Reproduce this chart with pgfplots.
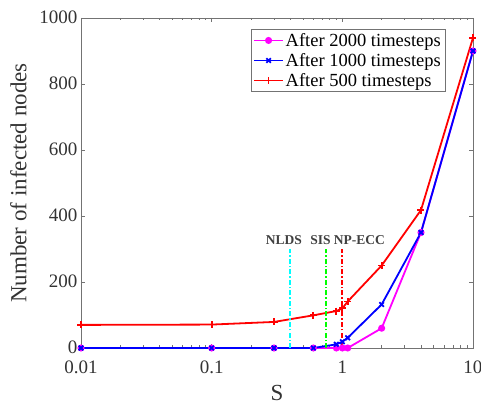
\documentclass[border=0pt]{standalone}
\usepackage{pgfplots}
\pgfplotsset{compat=1.18}
\usepackage{fontspec}
\setmainfont{Liberation Serif}
\definecolor{axgray}{gray}{0.45}
\definecolor{txtgray}{gray}{0.2}
\definecolor{mmag}{rgb}{1,0,1}
\definecolor{mcyan}{rgb}{0,1,1}
\definecolor{mgreen}{rgb}{0,1,0}
\begin{document}
\begin{tikzpicture}
\path[use as bounding box] (-81pt,-58pt) rectangle (400pt,348pt);
\begin{axis}[
  scale only axis,
  width=392pt, height=330pt,
  at={(0pt,0pt)}, anchor=south west,
  xmode=log,
  xmin=0.01, xmax=10,
  ymin=0, ymax=1000,
  xtick={0.01,0.1,1,10},
  xticklabels={0.01,0.1,1,10},
  ytick={0,200,400,600,800,1000},
  yticklabels={0,200,400,600,800,1000},
  minor x tick num=0,
  tick align=inside,
  tick pos=both,
  major tick length=4pt,
  minor tick length=2.5pt,
  axis line style={axgray, line width=0.6pt},
  every tick/.style={axgray, line width=0.5pt},
  /pgf/number format/assume math mode=true,
  tick label style={font=\fontsize{19}{21}\selectfont, text=txtgray},
  xticklabel style={yshift=-9pt},
  yticklabel style={yshift=1pt},
  xlabel={S},
  ylabel={Number of infected nodes},
  label style={font=\fontsize{23}{26}\selectfont, text=txtgray},
  xlabel style={yshift=-5pt},
  ylabel style={yshift=6pt},
  legend style={
    at={(0.929,0.967)}, anchor=north east,
    draw=axgray, line width=0.6pt,
    font=\fontsize{18.5}{20}\selectfont,
    inner xsep=2pt, inner ysep=2pt,
    row sep=1.5pt,
    cells={anchor=west},
  },
  legend image post style={line width=1.8pt},
  legend image code/.code={
    \draw[mark repeat=2,mark phase=2] plot coordinates {(0cm,0cm) (0.5cm,0cm) (1.0cm,0cm)};
  },
]
\addplot[mmag, line width=1.8pt, mark=*, mark size=2.6pt] coordinates {
  (0.01,0)(0.1,0)(0.3,0)(0.6,0)(0.9,0)(1.0,0)(1.1,0)(2,60)(4,350)(10,900)
};
\addlegendentry{After 2000 timesteps}
\addplot[blue, line width=1.8pt, mark=x, mark size=3.2pt] coordinates {
  (0.01,0)(0.1,0)(0.3,0)(0.6,0)(0.9,11)(1.0,19)(1.1,31)(2,132)(4,350)(10,900)
};
\addlegendentry{After 1000 timesteps}
\addplot[red, line width=1.8pt, mark=+, mark size=3.5pt] coordinates {
  (0.01,70)(0.1,71)(0.3,79)(0.6,99)(0.9,112)(1.0,120)(1.1,141)(2,250)(4,418)(10,940)
};
\addlegendentry{After 500 timesteps}
\addplot[mcyan, line width=1.7pt, dash pattern=on 5pt off 2pt on 1.5pt off 2pt, forget plot] coordinates {(0.4,0)(0.4,300)};
\addplot[mgreen, line width=1.7pt, dash pattern=on 5pt off 2pt on 1.5pt off 2pt, forget plot] coordinates {(0.75,0)(0.75,300)};
\addplot[red, line width=1.7pt, dash pattern=on 5pt off 2pt on 1.5pt off 2pt, forget plot] coordinates {(1.0,0)(1.0,300)};
\node[anchor=base, font=\fontsize{13.5}{16}\selectfont\bfseries, text=black!75] at (axis cs:0.357,313) {NLDS};
\node[anchor=base, font=\fontsize{13.5}{16}\selectfont\bfseries, text=black!75] at (axis cs:0.68,313) {SIS};
\node[anchor=base, font=\fontsize{13.5}{16}\selectfont\bfseries, text=black!75] at (axis cs:1.35,313) {NP-ECC};
\end{axis}
\end{tikzpicture}
\end{document}
